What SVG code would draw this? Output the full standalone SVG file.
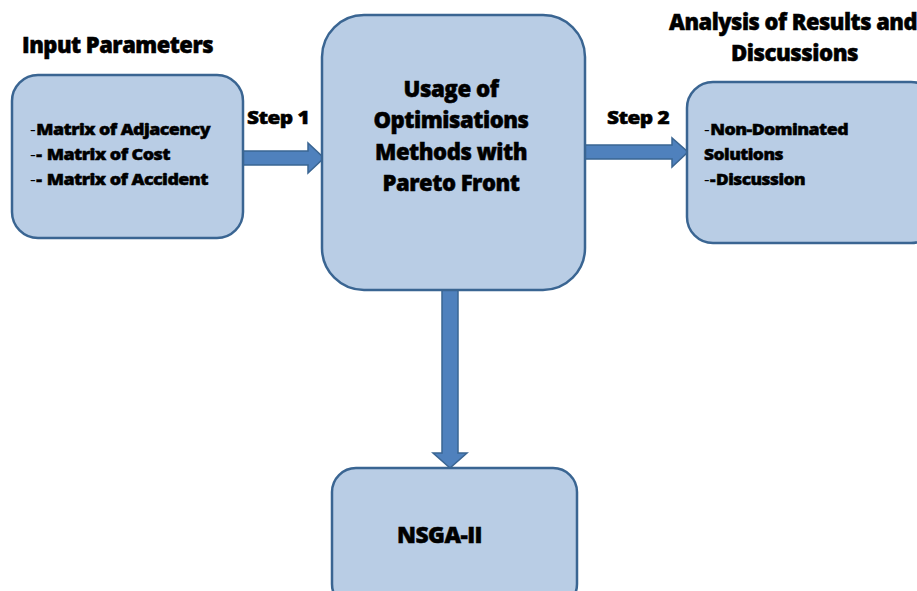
<svg xmlns="http://www.w3.org/2000/svg" width="917" height="591" viewBox="0 0 917 591">
<style>
.box{fill:#B9CDE5;stroke:#3A6592;stroke-width:2.5}
.arr{fill:#4F81BD;stroke:#3A6592;stroke-width:1.5}
text{font-family:"Open Sans",Lato,"Liberation Sans",sans-serif;font-weight:800;fill:#000;stroke:#000;stroke-width:0.5;letter-spacing:-0.5px}
.h{font-size:22px}
.s{font-size:18px}
.b{font-size:16.5px}
.c{font-size:23px;text-anchor:middle}
.n{font-weight:normal;stroke-width:0;letter-spacing:0.5px}
.d{letter-spacing:0.5px}
</style>
<rect width="917" height="591" fill="#fff"/>
<g id="connectors">
<path class="arr" d="M243,151 H308 V143 L324,158 L308,173 V165 H243 Z"/>
<path class="arr" d="M585,145 H672 V138 L688,152 L672,167 V159 H585 Z"/>
<path class="arr" d="M442,290 V453 H433 L450,468 L467,453 H458 V290 Z"/>
</g>
<g id="input">
<text class="h" x="22" y="53" textLength="191" lengthAdjust="spacingAndGlyphs">Input Parameters</text>
<rect class="box" x="12" y="75" width="231" height="163" rx="26"/>
<text class="b" x="30" y="135" textLength="180" lengthAdjust="spacingAndGlyphs"><tspan class="n">-</tspan>Matrix of Adjacency</text>
<text class="b" x="30" y="160" textLength="140" lengthAdjust="spacingAndGlyphs"><tspan class="n">-</tspan><tspan class="d">-</tspan> Matrix of Cost</text>
<text class="b" x="30" y="185" textLength="178" lengthAdjust="spacingAndGlyphs"><tspan class="n">-</tspan><tspan class="d">-</tspan> Matrix of Accident</text>
</g>
<g id="step-labels">
<text class="s" x="247" y="124" textLength="62" lengthAdjust="spacingAndGlyphs">Step 1</text>
<text class="s" x="607" y="124" textLength="62" lengthAdjust="spacingAndGlyphs">Step 2</text>
</g>
<g id="usage">
<rect class="box" x="322" y="15" width="263" height="275" rx="42"/>
<text class="c" x="451" y="97" textLength="95" lengthAdjust="spacingAndGlyphs">Usage of</text>
<text class="c" x="451" y="128" textLength="155" lengthAdjust="spacingAndGlyphs">Optimisations</text>
<text class="c" x="451" y="160" textLength="152" lengthAdjust="spacingAndGlyphs">Methods with</text>
<text class="c" x="451" y="191" textLength="137" lengthAdjust="spacingAndGlyphs">Pareto Front</text>
</g>
<g id="analysis">
<text class="h" x="669" y="30" textLength="248" lengthAdjust="spacingAndGlyphs">Analysis of Results and</text>
<text class="h" x="731" y="61" textLength="127" lengthAdjust="spacingAndGlyphs">Discussions</text>
<rect class="box" x="687" y="82" width="250" height="161" rx="26"/>
<text class="b" x="704" y="135" textLength="144" lengthAdjust="spacingAndGlyphs"><tspan class="n">-</tspan>Non-Dominated</text>
<text class="b" x="704" y="160" textLength="79" lengthAdjust="spacingAndGlyphs">Solutions</text>
<text class="b" x="704" y="185" textLength="101" lengthAdjust="spacingAndGlyphs"><tspan class="n">-</tspan><tspan class="d">-</tspan>Discussion</text>
</g>
<g id="nsga">
<rect class="box" x="332" y="468" width="245" height="140" rx="24"/>
<text class="h" x="397" y="543" textLength="85" lengthAdjust="spacingAndGlyphs">NSGA-II</text>
</g>
</svg>
